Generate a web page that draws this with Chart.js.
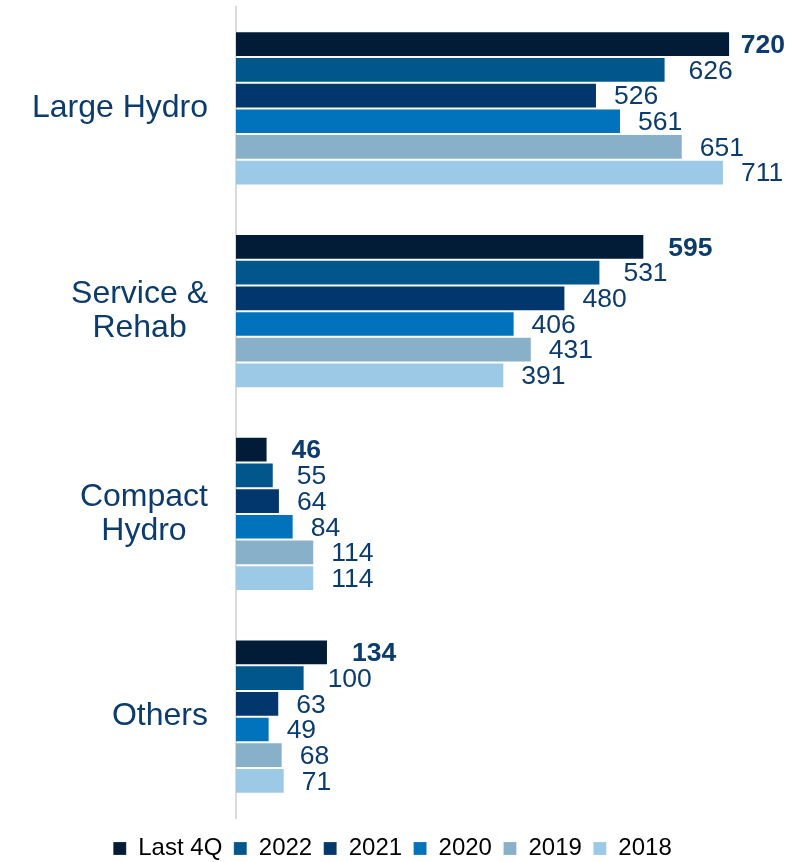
<!DOCTYPE html>
<html>
<head>
<meta charset="utf-8">
<title>Orders by segment</title>
<script src="https://cdn.jsdelivr.net/npm/chart.js@4"></script>
<style>
  html, body { margin: 0; padding: 0; background: #ffffff; }
  #wrap { width: 810px; height: 862px; }
</style>
</head>
<body>
<div id="wrap"><canvas id="chart" width="810" height="862"></canvas></div>
<script>
// Segment names (multi-line labels) and the series shown per segment
const categories = [['Large Hydro'], ['Service &', 'Rehab'], ['Compact', 'Hydro'], ['Others']];
const seriesNames = ['Last 4Q', '2022', '2021', '2020', '2019', '2018'];

// Values per segment, one array per series
const last4Q = [720, 595, 46, 134];
const y2022  = [626, 531, 55, 100];
const y2021  = [526, 480, 64, 63];
const y2020  = [561, 406, 84, 49];
const y2019  = [651, 431, 114, 68];
const y2018  = [711, 391, 114, 71];

const seriesValues = [last4Q, y2022, y2021, y2020, y2019, y2018];
const seriesColors = ['#021c37', '#01578b', '#02376e', '#0173bc', '#89b0c9', '#9cc9e6'];

const FONT = "'Liberation Sans', Arial, Helvetica, sans-serif";
const TEXT_BLUE = '#0c3b6e';

// Category labels: each block is right-aligned next to the axis, its lines centred within it
const categoryLabels = {
  id: 'categoryLabels',
  afterDraw(chart) {
    const scale = chart.scales.y;
    const ctx = chart.ctx;
    const size = 32, lineH = 34, rightEdge = scale.right - 28;
    ctx.save();
    ctx.font = `${size}px ${FONT}`;
    ctx.fillStyle = TEXT_BLUE;
    ctx.textAlign = 'center';
    ctx.textBaseline = 'middle';
    scale.ticks.forEach((t, i) => {
      const lines = [].concat(chart.data.labels[i]);
      const blockW = Math.max(...lines.map(l => ctx.measureText(l).width));
      const cx = rightEdge - blockW / 2;
      const cy = scale.getPixelForTick(i);
      const top = cy - (lines.length - 1) * lineH / 2;
      lines.forEach((l, k) => ctx.fillText(l, cx, top + k * lineH));
    });
    ctx.restore();
  }
};

// Value labels just past the end of each bar
const valueLabels = {
  id: 'valueLabels',
  afterDatasetsDraw(chart) {
    const ctx = chart.ctx;
    const area = chart.chartArea;
    ctx.save();
    ctx.textAlign = 'left';
    ctx.textBaseline = 'middle';
    chart.data.datasets.forEach((ds, di) => {
      const meta = chart.getDatasetMeta(di);
      const bold = di === 0;
      const gap = di === 0 ? 24 : (di === 1 ? 23 : 17);
      ctx.font = `${bold ? 'bold ' : ''}26.5px ${FONT}`;
      ctx.fillStyle = TEXT_BLUE;
      meta.data.forEach((bar, i) => {
        const txt = String(ds.data[i]);
        const w = ctx.measureText(txt).width;
        const off = Math.min(gap, area.right - bar.x - w);
        ctx.fillText(txt, bar.x + off, bar.y + 1.5);
      });
    });
    ctx.restore();
  }
};

// Compact legend strip along the bottom edge
const legendStrip = {
  id: 'legendStrip',
  beforeLayout(chart) {
    const lg = chart.legend;
    if (lg && !lg._stripFit) {
      const fit = lg.fit;
      lg.fit = function () { fit.call(this); this.height = 44; };
      lg._stripFit = true;
    }
  },
  afterLayout(chart) {
    const lg = chart.legend;
    if (lg) { lg.top += 7; lg.bottom += 7; }
  }
};

new Chart(document.getElementById('chart'), {
  type: 'bar',
  data: {
    labels: categories,
    datasets: seriesNames.map((name, i) => ({
      label: name,
      data: seriesValues[i],
      backgroundColor: seriesColors[i],
      borderColor: 'rgba(255,255,255,0.2)',
      borderWidth: 1,
      categoryPercentage: 0.76,
      barPercentage: 1.0
    }))
  },
  options: {
    indexAxis: 'y',
    responsive: false,
    animation: false,
    layout: { padding: { top: 7, right: 25, bottom: 0, left: 0 } },
    scales: {
      x: {
        display: false,
        min: 0,
        max: 800
      },
      y: {
        grid: { display: false },
        ticks: { display: false },
        border: { display: true, color: '#d9d9d9', width: 2 },
        afterFit(scale) { scale.width = 236; }
      }
    },
    plugins: {
      legend: {
        position: 'bottom',
        labels: {
          boxWidth: 13,
          boxHeight: 13,
          padding: 11.5,
          color: '#000000',
          font: { family: FONT, size: 24 }
        }
      },
      tooltip: { enabled: false }
    }
  },
  plugins: [categoryLabels, valueLabels, legendStrip]
});
</script>
</body>
</html>
